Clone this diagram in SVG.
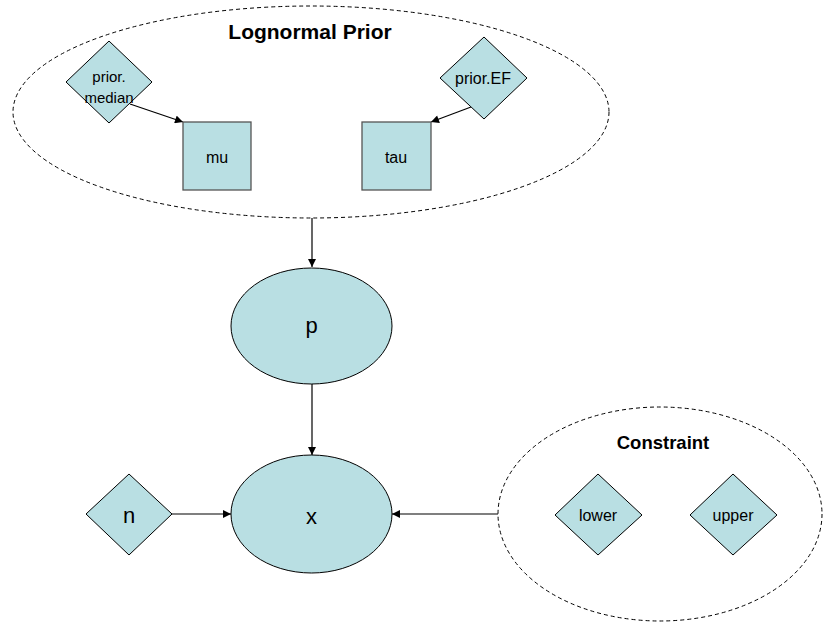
<svg xmlns="http://www.w3.org/2000/svg" width="824" height="624" viewBox="0 0 824 624">
<style>
.grp{fill:none;stroke:#000;stroke-width:1;stroke-dasharray:4,3}
.node{fill:#B9DFE3;stroke:#000;stroke-width:1}
.box{fill:#B9DFE3;stroke:#555;stroke-width:1.3}
.lbl{font-family:"Liberation Sans",Arial,sans-serif;font-size:16px;text-anchor:middle;fill:#000}
.big{font-family:"Liberation Sans",Arial,sans-serif;font-size:22px;text-anchor:middle;fill:#000}
.ttl{font-family:"Liberation Sans",Arial,sans-serif;font-size:21px;font-weight:bold;text-anchor:middle;fill:#000}
.edge{stroke:#000;stroke-width:1.2;fill:none;marker-end:url(#ah)}
</style>
<defs>
<marker id="ah" viewBox="0 0 10 10" refX="10" refY="5" markerWidth="9" markerHeight="8" markerUnits="userSpaceOnUse" orient="auto">
<path d="M0,0 L10,5 L0,10 z" fill="#000"/>
</marker>
</defs>
<rect width="824" height="624" fill="#fff"/>
<g id="lognormal-prior">
<ellipse class="grp" cx="311" cy="112" rx="298" ry="106"/>
<text class="ttl" x="310" y="39">Lognormal Prior</text>
</g>
<g id="constraint">
<ellipse class="grp" cx="660" cy="514" rx="162" ry="107"/>
<text class="ttl" x="663" y="449" style="font-size:18.5px">Constraint</text>
</g>
<g id="connectors">
<line class="edge" x1="130" y1="104" x2="183" y2="122"/>
<line class="edge" x1="471" y1="107" x2="431" y2="122"/>
<line class="edge" x1="312" y1="218" x2="312" y2="267"/>
<line class="edge" x1="312" y1="384" x2="312" y2="455"/>
<line class="edge" x1="172" y1="514" x2="231" y2="514"/>
<line class="edge" x1="498" y1="514" x2="392" y2="514"/>
</g>
<g id="prior-median">
<polygon class="node" points="109,41 152,82 109,123 66,82"/>
<text class="lbl" x="109" y="82" style="font-size:15px">prior.</text>
<text class="lbl" x="109" y="103" style="font-size:15px">median</text>
</g>
<g id="prior-EF">
<polygon class="node" points="484,37 527,78 484,119 440,78"/>
<text class="lbl" x="483" y="84">prior.EF</text>
</g>
<g id="mu">
<rect class="box" x="183" y="122" width="68" height="68"/>
<text class="lbl" x="217" y="163">mu</text>
</g>
<g id="tau">
<rect class="box" x="362" y="122" width="69" height="68"/>
<text class="lbl" x="396" y="163">tau</text>
</g>
<g id="p">
<ellipse class="node" cx="311.5" cy="326" rx="80.5" ry="58"/>
<text class="big" x="311.5" y="333">p</text>
</g>
<g id="x">
<ellipse class="node" cx="311.5" cy="514" rx="80.5" ry="59"/>
<text class="big" x="311.5" y="524">x</text>
</g>
<g id="n">
<polygon class="node" points="129,474 172,514 129,555 86,514"/>
<text class="big" x="129" y="523">n</text>
</g>
<g id="lower">
<polygon class="node" points="598,474 642,515 598,555 555,515"/>
<text class="lbl" x="598" y="521">lower</text>
</g>
<g id="upper">
<polygon class="node" points="733,474 777,515 733,555 690,515"/>
<text class="lbl" x="733" y="521">upper</text>
</g>
</svg>
